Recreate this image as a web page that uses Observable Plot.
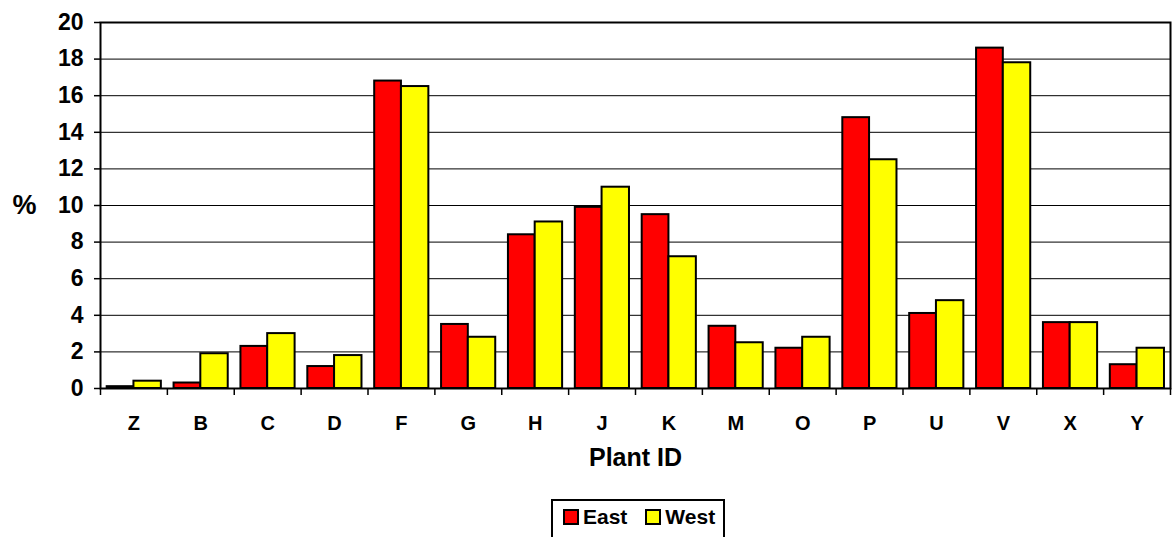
<!DOCTYPE html>
<html>
<head>
<meta charset="utf-8">
<script src="https://cdn.jsdelivr.net/npm/d3@7"></script>
<script src="https://cdn.jsdelivr.net/npm/@observablehq/plot@0.6"></script>
<style>
  body { margin: 0; background: #fff; font-family: "Liberation Sans", Arial, sans-serif; }
  #chart { position: relative; width: 1176px; height: 537px; overflow: hidden; }
  .legend { position: absolute; left: 551px; top: 499px; width: 174px; height: 44px; box-sizing: border-box;
            border: 2px solid #000; display: flex; align-items: center; padding-left: 10px; padding-bottom: 8px;
            font-weight: bold; font-size: 21px; color: #000; }
  .legend .sw { width: 12px; height: 12px; border: 2px solid #000; margin-right: 4px; }
  .legend .item { display: flex; align-items: center; }
  .legend .item + .item { margin-left: 18px; }
</style>
</head>
<body>
<div id="chart"></div>
<script>
const categories = ["Z","B","C","D","F","G","H","J","K","M","O","P","U","V","X","Y"];
const east = [0.1, 0.3, 2.3, 1.2, 16.8, 3.5, 8.4, 9.9, 9.5, 3.4, 2.2, 14.8, 4.1, 18.6, 3.6, 1.3];
const west = [0.4, 1.9, 3.0, 1.8, 16.5, 2.8, 9.1, 11.0, 7.2, 2.5, 2.8, 12.5, 4.8, 17.8, 3.6, 2.2];
const seriesNames = ["East", "West"];
const seriesColors = ["#ff0000", "#ffff00"];
const yTicks = [0, 2, 4, 6, 8, 10, 12, 14, 16, 18, 20];
const xTitle = "Plant ID";
const yTitle = "%";

const table = categories.map((c, i) => ({category: c, East: east[i], West: west[i]}));

const W = 1176, H = 490, mL = 100, mR = 6, mT = 22, mB = 102;
const bw = (W - mL - mR) / categories.length;

const chart = Plot.plot({
  width: W, height: H,
  marginLeft: mL, marginRight: mR, marginTop: mT, marginBottom: mB,
  style: {fontFamily: "'Liberation Sans', Arial, sans-serif", fontWeight: "bold", color: "#000", background: "#fff"},
  x: {domain: categories, padding: 0, round: false, label: null},
  y: {domain: [0, 20], label: null},
  marks: [
    Plot.ruleY(yTicks, {stroke: "#000", strokeWidth: 1}),
    Plot.barY(table, {x: "category", y: seriesNames[0], fill: seriesColors[0], stroke: "#000", strokeWidth: 2,
      insetLeft: bw * 0.1, insetRight: bw * 0.5}),
    Plot.barY(table, {x: "category", y: seriesNames[1], fill: seriesColors[1], stroke: "#000", strokeWidth: 2,
      insetLeft: bw * 0.5, insetRight: bw * 0.09}),
    Plot.frame({stroke: "#000", strokeWidth: 2}),
    Plot.axisY({ticks: yTicks, tickSize: 6, tickPadding: 11, fontSize: 23, strokeWidth: 1.5, label: null}),
    Plot.axisX({tickSize: 0, tickPadding: 27, fontSize: 20, label: null}),
    Plot.axisX({tickSize: 7, tickFormat: () => "", dx: -bw / 2, strokeWidth: 1.5, label: null}),
    Plot.axisX({ticks: [categories[categories.length - 1]], tickSize: 7, tickFormat: () => "", dx: bw / 2, strokeWidth: 1.5, label: null}),
    Plot.text([xTitle], {frameAnchor: "bottom", dy: 77, fontSize: 25, fontWeight: "bold", textAnchor: "middle"}),
    Plot.text([yTitle], {frameAnchor: "left", dx: -76, fontSize: 27, fontWeight: "bold", textAnchor: "middle"})
  ]
});

const root = document.getElementById("chart");
root.appendChild(chart);

const legend = document.createElement("div");
legend.className = "legend";
seriesNames.forEach((name, i) => {
  const item = document.createElement("div");
  item.className = "item";
  const sw = document.createElement("span");
  sw.className = "sw";
  sw.style.background = seriesColors[i];
  const label = document.createElement("span");
  label.textContent = name;
  item.appendChild(sw);
  item.appendChild(label);
  legend.appendChild(item);
});
root.appendChild(legend);
</script>
</body>
</html>
